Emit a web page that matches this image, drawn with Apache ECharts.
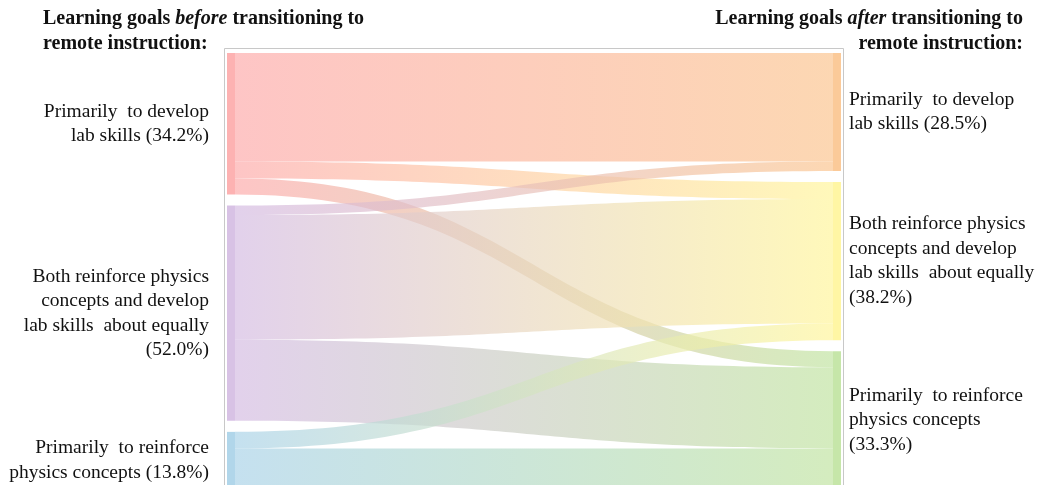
<!DOCTYPE html>
<html>
<head>
<meta charset="utf-8">
<script src="https://cdn.jsdelivr.net/npm/echarts@6/dist/echarts.min.js"></script>
<style>
html,body{margin:0;padding:0;background:#fff;}
#c{width:1040px;height:485px;}
</style>
</head>
<body>
<div id="c"></div>
<script>
// ---- data ----
const beforeIds = ['b_lab', 'b_both', 'b_concepts'];
const afterIds = ['a_lab', 'a_both', 'a_concepts'];
const beforeLabels = [
  'Primarily  to develop\nlab skills (34.2%)',
  'Both reinforce physics\nconcepts and develop\nlab skills  about equally\n(52.0%)',
  'Primarily  to reinforce\nphysics concepts (13.8%)'
];
const afterLabels = [
  'Primarily  to develop\nlab skills (28.5%)',
  'Both reinforce physics\nconcepts and develop\nlab skills  about equally\n(38.2%)',
  'Primarily  to reinforce\nphysics concepts\n(33.3%)'
];
const titleBefore = ['Learning goals ', 'before', ' transitioning to', 'remote instruction:'];
const titleAfter = ['Learning goals ', 'after', ' transitioning to', 'remote instruction:'];
// percent of respondents flowing from before-goal (row) to after-goal (column)
const fromLab = [26.2, 4.1, 3.9];
const fromBoth = [2.3, 30.1, 19.6];
const fromConcepts = [0, 4.0, 9.8];
const beforeColors = ['#fdaaaa', '#d4bbe2', '#a9d2e8'];
const afterColors = ['#fbc48e', '#fff59a', '#c0e3a0'];

// ---- build ----
const flows = [fromLab, fromBoth, fromConcepts];
const nodes = [];
beforeIds.forEach((id, i) => nodes.push({
  name: id,
  itemStyle: { color: beforeColors[i] },
  label: { position: 'left', distance: 18, align: 'right', formatter: beforeLabels[i] }
}));
afterIds.forEach((id, i) => nodes.push({
  name: id,
  itemStyle: { color: afterColors[i] },
  label: { position: 'right', distance: 8, align: 'left', formatter: afterLabels[i] }
}));
const links = [];
flows.forEach((row, i) => row.forEach((v, j) => {
  if (v > 0) links.push({ source: beforeIds[i], target: afterIds[j], value: v });
}));

const serif = "'Liberation Serif', 'DejaVu Serif', serif";
function titleText(t) {
  return '{b|' + t[0] + '}{bi|' + t[1] + '}{b|' + t[2] + '}\n{b|' + t[3] + '}';
}
function titleRich(align) {
  return {
    b: { fontFamily: serif, fontWeight: 'bold', fontSize: 20, lineHeight: 25, fill: '#111', align: align },
    bi: { fontFamily: serif, fontWeight: 'bold', fontStyle: 'italic', fontSize: 20, lineHeight: 25, fill: '#111', align: align }
  };
}
const chart = echarts.init(document.getElementById('c'), null, { renderer: 'canvas' });
chart.setOption({
  animation: false,
  backgroundColor: '#fff',
  graphic: [
    {
      type: 'rect', silent: true, z: -1,
      shape: { x: 224.5, y: 48.5, width: 619, height: 460 },
      style: { fill: 'none', stroke: '#c8c8c8', lineWidth: 1 }
    },
    {
      type: 'text', silent: true, x: 43, y: 6,
      style: {
        text: titleText(titleBefore), rich: titleRich('left'),
        font: 'bold 20px ' + serif, align: 'left', verticalAlign: 'top', fill: '#111'
      }
    },
    {
      type: 'text', silent: true, x: 1023, y: 6,
      style: {
        text: titleText(titleAfter), rich: titleRich('right'),
        font: 'bold 20px ' + serif, align: 'right', verticalAlign: 'top', fill: '#111'
      }
    }
  ],
  series: [{
    type: 'sankey',
    left: 227, top: 53, width: 614, height: 436,
    nodeWidth: 8,
    nodeGap: 11,
    layoutIterations: 0,
    draggable: false,
    emphasis: { disabled: true },
    data: nodes,
    links: links,
    itemStyle: { borderWidth: 0, opacity: 0.9 },
    lineStyle: { color: 'gradient', opacity: 0.68, curveness: 0.5 },
    label: {
      fontFamily: serif, fontSize: 19.5, lineHeight: 24.5, color: '#111'
    }
  }]
});
</script>
</body>
</html>
